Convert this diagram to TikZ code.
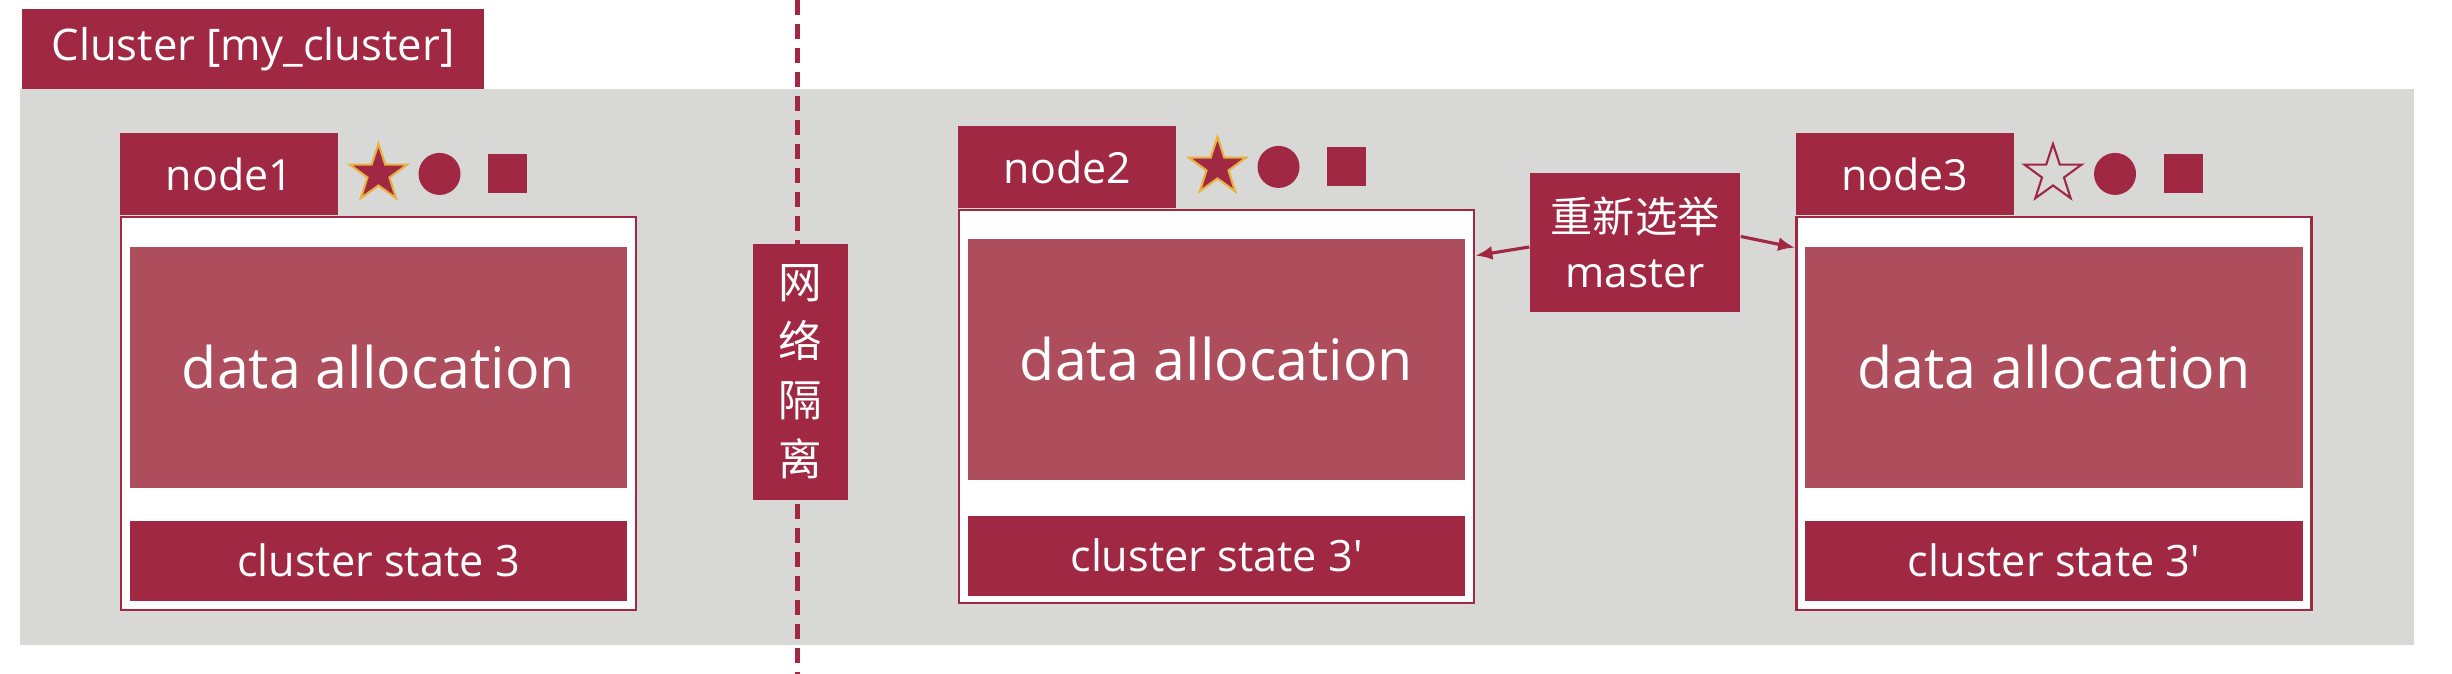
\documentclass[tikz,border=0pt]{standalone}
\usepackage{fontspec}
\setmainfont{Open Sans}
\newfontfamily\cjk{Noto Sans CJK SC}
\usetikzlibrary{positioning,shapes.geometric,arrows.meta}

\definecolor{esred}{RGB}{161,40,67}
\definecolor{eslight}{RGB}{174,77,91}
\definecolor{esgray}{RGB}{216,217,215}
\definecolor{esgold}{RGB}{232,176,64}

\begin{document}
\begin{tikzpicture}[x=0.01cm, y=-0.01cm, >={Latex[length=0.17cm,width=0.14cm]},
    tag/.style={fill=esred, text=white, inner sep=0pt, align=center},
    box/.style={draw=esred, line width=0.7pt, fill=white, minimum width=5.15cm, minimum height=3.93cm, inner sep=0pt},
    tab/.style={tag, minimum width=2.18cm, minimum height=0.82cm, font=\fontsize{12.2}{14}\selectfont},
    databox/.style={fill=eslight, text=white, minimum width=4.97cm, minimum height=2.40cm, inner sep=0pt, font=\fontsize{16.3}{18}\selectfont},
    statebox/.style={tag, minimum width=4.97cm, minimum height=0.80cm, font=\fontsize{12.3}{14}\selectfont},
    redstar/.style={star, star points=5, star point ratio=2.6, minimum size=0.60cm, inner sep=0pt, fill=esred, draw=esgold, line width=0.6pt},
    openstar/.style={star, star points=5, star point ratio=2.6, minimum size=0.60cm, inner sep=0pt, draw=esred, line width=0.6pt},
    dot/.style={circle, fill=esred, minimum size=0.42cm, inner sep=0pt},
    sq/.style={rectangle, fill=esred, minimum size=0.39cm, inner sep=0pt},
    cutline/.style={draw=esred, line width=0.05cm, dash pattern=on 0.15cm off 0.09cm},
    link/.style={->, draw=esred, line width=0.9pt}]

    \useasboundingbox (0,0) rectangle (2452,674);

    % Cluster frame
    \node [fill=esgray, minimum width=23.92cm, minimum height=5.56cm, inner sep=0pt] (cluster) at (1217,367) {};
    \node [tag, minimum width=4.62cm, minimum height=0.80cm, font=\fontsize{12.4}{15}\selectfont] (title) at (253,49) {Cluster [my\_cluster]};

    % Network partition
    \coordinate (cut top) at (797,0);
    \coordinate (cut bottom) at (797,674);
    \draw [cutline] (cut top) -- (cut bottom);
    \node [tag, minimum width=0.95cm, minimum height=2.56cm, font=\cjk\fontsize{12.4}{16.8}\selectfont] (isolate) at (800.5,372) {网\\络\\隔\\离};

    % node1
    \node [box] (box1) at (378.5,413.5) {};
    \node [tab, anchor=south west] (tab1) at (box1.north west) {node1};
    \node [databox, below=0.31cm of box1.north] (data1) {data allocation};
    \node [statebox, above=0.10cm of box1.south] (state1) {cluster state 3};
    \node [redstar, right of=tab1, node distance=1.49cm] (star1) {};
    \node [dot, right of=star1, node distance=0.61cm] (dot1) {};
    \node [sq, right of=dot1, node distance=0.68cm] (sq1) {};

    % node2
    \node [box] (box2) at (1216.5,406.5) {};
    \node [tab, anchor=south west] (tab2) at (box2.north west) {node2};
    \node [databox, below=0.30cm of box2.north] (data2) {data allocation};
    \node [statebox, above=0.08cm of box2.south] (state2) {cluster state 3\textquotesingle};
    \node [redstar, right of=tab2, node distance=1.50cm] (star2) {};
    \node [dot, right of=star2, node distance=0.61cm] (dot2) {};
    \node [sq, right of=dot2, node distance=0.68cm] (sq2) {};

    % node3
    \node [box] (box3) at (2054,413.5) {};
    \node [tab, anchor=south west] (tab3) at (box3.north west) {node3};
    \node [databox, below=0.31cm of box3.north] (data3) {data allocation};
    \node [statebox, above=0.10cm of box3.south] (state3) {cluster state 3\textquotesingle};
    \node [openstar, right of=tab3, node distance=1.48cm] (star3) {};
    \node [dot, right of=star3, node distance=0.62cm] (dot3) {};
    \node [sq, right of=dot3, node distance=0.68cm] (sq3) {};

    % Re-election
    \node [tag, minimum width=2.10cm, minimum height=1.39cm, font=\fontsize{12}{15.6}\selectfont] (master) at (1635,242.5) {{\cjk 重新选举}\\master};
    \draw [link] ([yshift=-0.045cm]master.west) -- ([yshift=-0.47cm]box2.north east);
    \draw [link] ([yshift=0.06cm]master.east) -- ([yshift=-0.32cm]box3.north west);

\end{tikzpicture}
\end{document}
